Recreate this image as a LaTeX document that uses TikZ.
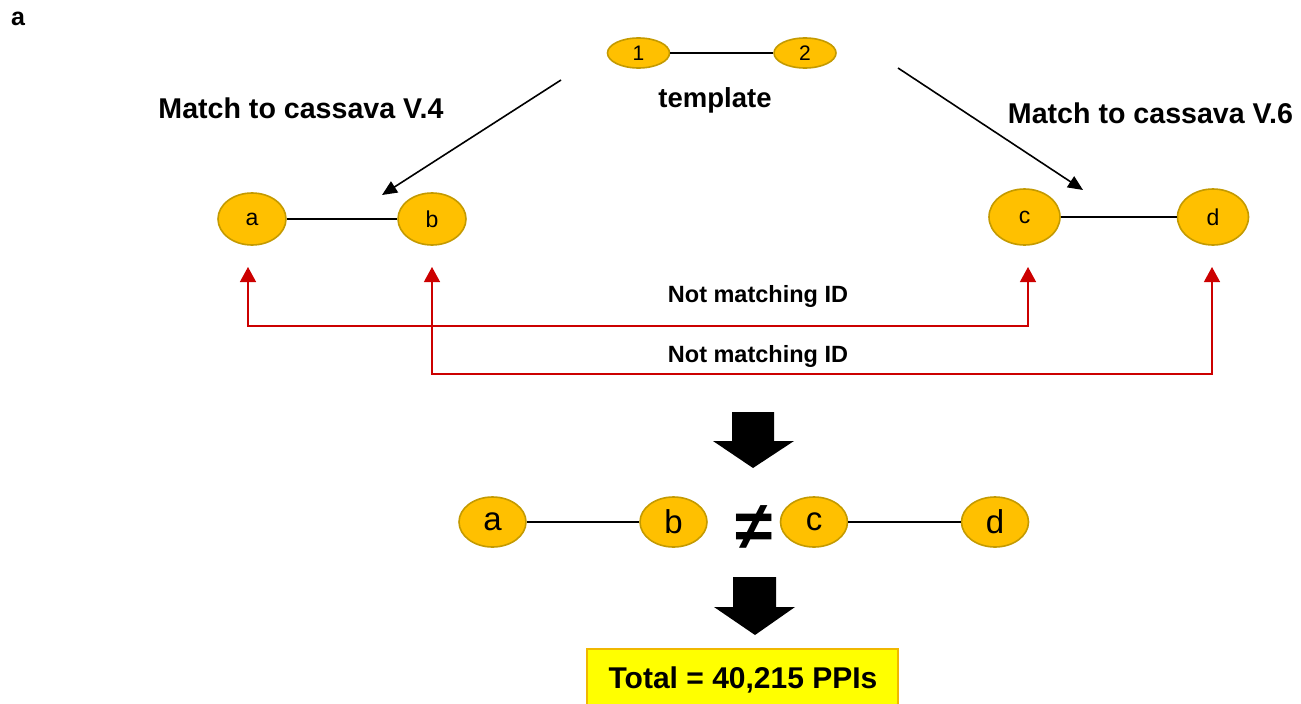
\documentclass[tikz,border=0pt]{standalone}
\usepackage{fontspec}
\setmainfont{Liberation Sans}
\usetikzlibrary{shapes.geometric,arrows.meta}
\definecolor{nodefill}{HTML}{FFC000}
\definecolor{nodeedge}{HTML}{C49A00}
\definecolor{redline}{HTML}{CC0000}
\definecolor{boxfill}{HTML}{FFFF00}
\definecolor{boxedge}{HTML}{F0B800}
\tikzset{
  fsz/.style={font=\fontsize{#1}{#1}\selectfont},
  fszb/.style={font=\fontsize{#1}{#1}\selectfont\bfseries},
  gnode/.style={ellipse, draw=nodeedge, fill=nodefill, line width=1.6pt, inner sep=0pt},
  smallnode/.style={gnode, minimum width=68pt, minimum height=52pt, fsz=23},
  sidenode/.style={gnode, minimum width=71pt, minimum height=56pt, fsz=23},
  tmplnode/.style={gnode, minimum width=62pt, minimum height=30pt, fsz=21},
  bignode/.style={gnode, minimum width=67pt, minimum height=50pt, fsz=33},
  edge/.style={line width=1.6pt, black},
  redcon/.style={line width=1.3pt, redline, {Triangle[width=16pt,length=15pt]}-{Triangle[width=16pt,length=15pt]}},
  matcharrow/.style={line width=1.6pt, -{Triangle[width=13pt,length=15pt]}},
  blockarrow/.style={fill=black},
}
\begin{document}
\begin{tikzpicture}[x=1pt,y=-1pt]
\clip (0,0) rectangle (1301,704);
\useasboundingbox (0,0) rectangle (1301,704);
\fill[white] (0,0) rectangle (1301,704);

% panel label
\node[fszb=25, anchor=base] (panel) at (18,25) {a};

% template
\node[tmplnode] (t1) at (638.5,53) {1};
\node[tmplnode] (t2) at (805,53) {2};
\draw[edge] (t1) -- (t2);
\node[fszb=27.5, anchor=base] (tmpl) at (715,107) {template};

% match labels
\node[fszb=28.6, anchor=base] (m4) at (301,118) {Match to cassava V.4};
\node[fszb=28.6, anchor=base] (m6) at (1150.5,123) {Match to cassava V.6};

% top row nodes
\node[smallnode] (a1) at (252,219) {a};
\node[smallnode] (b1) at (432,219) {b};
\draw[edge] (a1) -- (b1);
\node[sidenode] (c1) at (1024.5,217) {c};
\node[sidenode] (d1) at (1213,217) {d};
\draw[edge] (c1) -- (d1);

% match arrows
\coordinate (ls) at (561,80);
\coordinate (le) at (382,195);
\coordinate (rs) at (898,68);
\coordinate (re) at (1083,190);
\draw[matcharrow] (ls) -- (le);
\draw[matcharrow] (rs) -- (re);

% red connectors
\coordinate (pa) at (248,267);
\coordinate (pb) at (432,267);
\coordinate (pc) at (1028,267);
\coordinate (pd) at (1212,267);
\draw[redcon] (pa) -- (pa |- 0,326) -- (pc |- 0,326) -- (pc);
\draw[redcon] (pb) -- (pb |- 0,374) -- (pd |- 0,374) -- (pd);
\node[fszb=23.5, anchor=base] (nm1) at (758,302) {Not matching ID};
\node[fszb=23.5, anchor=base] (nm2) at (758,362) {Not matching ID};

% block arrow 1
\fill[blockarrow] (732,412) -- (774,412) -- (774,441) -- (794,441) -- (753,468) -- (713,441) -- (732,441) -- cycle;

% bottom row
\node[bignode] (a2) at (492.5,522) {a};
\node[bignode] (b2) at (673.5,522) {b};
\draw[edge] (a2) -- (b2);
\node[fszb=68, inner sep=0pt] (neq) at (754,528) {≠};
\node[bignode] (c2) at (814,522) {c};
\node[bignode] (d2) at (995,522) {d};
\draw[edge] (c2) -- (d2);

% block arrow 2
\fill[blockarrow] (733,577) -- (776,577) -- (776,607) -- (795,607) -- (755,635) -- (714,607) -- (733,607) -- cycle;

% total box
\draw[fill=boxfill, draw=boxedge, line width=2pt] (587,649) rectangle (898,712);
\node[fszb=30, anchor=base] (total) at (743,688) {Total = 40,215 PPIs};
\end{tikzpicture}
\end{document}
